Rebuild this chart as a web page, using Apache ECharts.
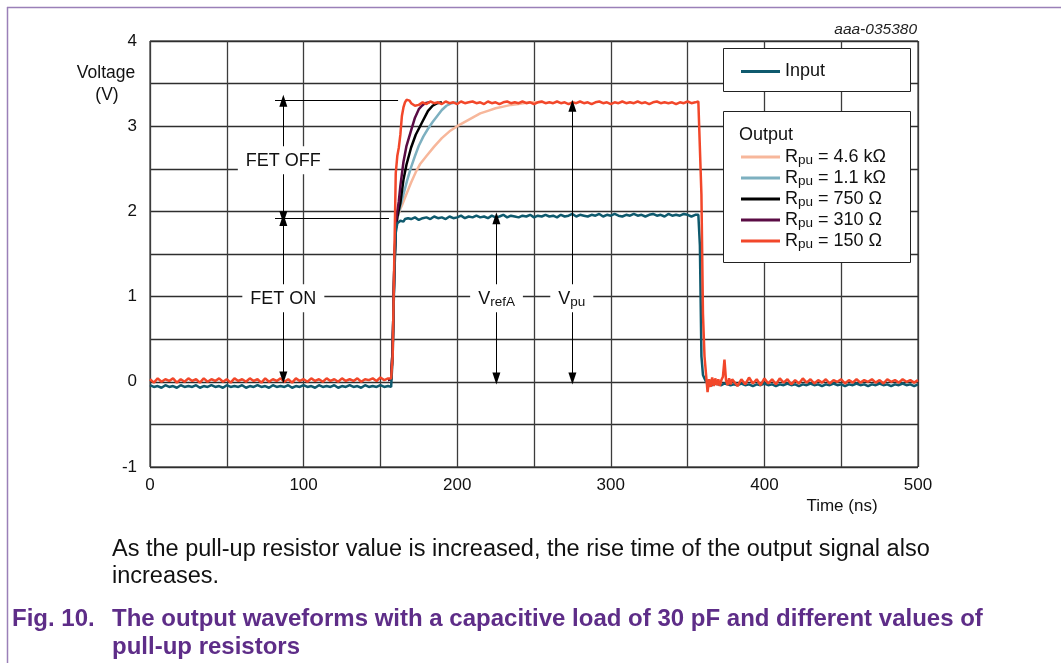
<!DOCTYPE html>
<html><head><meta charset="utf-8">
<script src="https://cdn.jsdelivr.net/npm/echarts@6/dist/echarts.min.js"></script>
<style>html,body{margin:0;padding:0;background:#fff;}#c{width:1061px;height:663px;}</style>
</head><body><div id="c"></div>
<script>
// ---- time base (ns) shared by the Input trace and the 150 ohm output trace
const timeNs = [
0,2.5,5,7.5,10,12.5,15,17.5,20,22.5,
25,27.5,30,32.5,35,37.5,40,42.5,45,47.5,
50,52.5,55,57.5,60,62.5,65,67.5,70,72.5,
75,77.5,80,82.5,85,87.5,90,92.5,95,97.5,
100,102.5,105,107.5,110,112.5,115,117.5,120,122.5,
125,127.5,130,132.5,135,137.5,140,142.5,145,147.5,
150,152.5,155,
156,157,158,159,160,161,162,163,164,165,166,167,168,169,
170,172.5,175,177.5,180,182.5,185,187.5,190,192.5,
195,197.5,200,202.5,205,207.5,210,212.5,215,217.5,
220,222.5,225,227.5,230,232.5,235,237.5,240,242.5,
245,247.5,250,252.5,255,257.5,260,262.5,265,267.5,
270,272.5,275,277.5,280,282.5,285,287.5,290,292.5,
295,297.5,300,302.5,305,307.5,310,312.5,315,317.5,
320,322.5,325,327.5,330,332.5,335,337.5,340,342.5,
345,347.5,350,352.5,355,
356,357,358,359,360,361,362,363,364,365,366,367,368,369,370,371,372,373,374,375,376,377,378,379,
380,382.5,385,387.5,390,392.5,395,397.5,400,402.5,
405,407.5,410,412.5,415,417.5,420,422.5,425,427.5,
430,432.5,435,437.5,440,442.5,445,447.5,450,452.5,
455,457.5,460,462.5,465,467.5,470,472.5,475,477.5,
480,482.5,485,487.5,490,492.5,495,497.5,500
];
const inputV = [
-0.04,-0.06,-0.05,-0.07,-0.04,-0.06,-0.05,-0.07,-0.04,-0.06,
-0.05,-0.06,-0.04,-0.07,-0.05,-0.06,-0.04,-0.06,-0.05,-0.07,
-0.04,-0.06,-0.05,-0.06,-0.04,-0.07,-0.05,-0.06,-0.04,-0.06,
-0.05,-0.07,-0.04,-0.06,-0.05,-0.06,-0.04,-0.07,-0.05,-0.06,
-0.04,-0.06,-0.05,-0.07,-0.04,-0.06,-0.05,-0.06,-0.04,-0.07,
-0.05,-0.06,-0.04,-0.06,-0.05,-0.07,-0.04,-0.06,-0.05,-0.06,
-0.04,-0.06,-0.05,
-0.05,-0.06,0.3,1.2,1.75,1.86,1.88,1.89,1.90,1.88,1.91,1.89,1.92,1.90,
1.91,1.93,1.90,1.92,1.93,1.91,1.94,1.92,1.93,1.91,
1.94,1.92,1.93,1.95,1.92,1.94,1.93,1.95,1.93,1.94,
1.92,1.95,1.93,1.94,1.96,1.93,1.95,1.94,1.93,1.95,
1.94,1.96,1.93,1.95,1.94,1.96,1.94,1.95,1.93,1.96,
1.94,1.95,1.97,1.94,1.96,1.95,1.94,1.96,1.95,1.97,
1.94,1.96,1.95,1.97,1.95,1.94,1.96,1.95,1.97,1.95,
1.96,1.94,1.96,1.97,1.95,1.96,1.94,1.97,1.95,1.96,
1.95,1.97,1.96,1.94,1.96,
1.95,1.96,1.6,0.3,0.08,0.04,0.0,-0.02,-0.03,-0.02,-0.04,-0.03,-0.02,-0.04,-0.03,-0.02,-0.04,-0.03,-0.02,-0.04,-0.03,-0.02,-0.04,-0.03,
-0.03,-0.04,-0.02,-0.04,-0.03,-0.05,-0.03,-0.04,-0.02,-0.04,
-0.03,-0.05,-0.03,-0.04,-0.02,-0.04,-0.03,-0.05,-0.03,-0.04,
-0.02,-0.04,-0.03,-0.05,-0.03,-0.04,-0.02,-0.04,-0.03,-0.05,
-0.03,-0.04,-0.02,-0.04,-0.03,-0.05,-0.03,-0.04,-0.02,-0.04,
-0.03,-0.05,-0.03,-0.04,-0.02,-0.04,-0.03,-0.05,-0.03
];
const out150V = [
0.03,-0.01,0.04,0.00,0.03,0.01,0.04,-0.01,0.03,0.00,
0.04,0.01,0.03,-0.01,0.04,0.00,0.03,0.01,0.04,0.00,
0.03,-0.01,0.04,0.01,0.03,0.00,0.04,0.01,0.03,-0.01,
0.04,0.00,0.03,0.01,0.04,0.00,0.03,-0.01,0.04,0.01,
0.03,0.00,0.04,0.01,0.03,0.00,0.04,0.01,0.03,0.00,
0.04,0.01,0.03,0.01,0.04,0.00,0.03,0.02,0.04,0.01,
0.05,0.02,0.04,
0.03,0.04,0.3,1.4,2.45,2.65,2.75,2.9,3.12,3.22,3.28,3.31,3.31,3.30,
3.27,3.24,3.25,3.28,3.26,3.29,3.27,3.28,3.26,3.29,
3.27,3.28,3.26,3.29,3.27,3.28,3.29,3.27,3.28,3.26,
3.29,3.27,3.28,3.26,3.28,3.29,3.27,3.28,3.27,3.29,
3.27,3.28,3.26,3.28,3.29,3.27,3.28,3.27,3.29,3.27,
3.28,3.26,3.28,3.27,3.29,3.27,3.28,3.26,3.28,3.29,
3.27,3.28,3.26,3.28,3.27,3.29,3.27,3.28,3.27,3.29,
3.27,3.28,3.26,3.28,3.29,3.27,3.28,3.27,3.28,3.26,
3.28,3.27,3.29,3.27,3.28,
3.28,3.29,3.27,2.2,0.8,0.30,0.29,-0.12,0.03,-0.06,0.05,-0.05,0.04,-0.04,0.03,-0.05,0.02,0.06,0.26,0.02,-0.04,0.04,-0.03,0.03,
0.04,-0.05,0.03,-0.03,0.05,-0.02,0.03,-0.04,0.04,-0.02,
0.03,-0.03,0.04,-0.01,0.03,-0.03,0.02,-0.02,0.04,-0.01,
0.03,-0.02,0.02,-0.01,0.03,-0.02,0.02,0.00,0.03,-0.02,
0.02,-0.01,0.03,-0.01,0.02,0.00,0.03,-0.01,0.02,-0.02,
0.03,0.00,0.02,-0.01,0.03,0.00,0.02,-0.01,0.02
];
// ---- slower outputs, rising edge (they sit under the 150 ohm trace elsewhere)
const t4k6 = [155,157,158,159,160,161,162,163,164,166,168,170,173,176,180,185,190,195,200,205,210,215,220,225,230,235,240,247,255];
const v4k6 = [0.02,0.03,0.4,1.3,1.8,1.92,1.98,2.03,2.07,2.16,2.25,2.34,2.46,2.56,2.65,2.76,2.86,2.94,3.00,3.05,3.10,3.15,3.18,3.21,3.23,3.25,3.26,3.28,3.28];
const t1k1 = [155,157,158,159,160,161,162,163,165,167.5,170,172.5,175,178,181,184,187,190,193,196.4,200];
const v1k1 = [0.02,0.03,0.4,1.3,1.8,1.92,1.99,2.06,2.2,2.37,2.52,2.65,2.77,2.88,2.97,3.05,3.12,3.19,3.24,3.27,3.28];
const t750 = [155,157,158,159,160,161,162,163,165,167,170,173,177,181,184,187,190];
const v750 = [0.02,0.03,0.4,1.3,1.8,1.93,2.02,2.1,2.37,2.55,2.75,2.9,3.04,3.18,3.24,3.27,3.28];
const t310 = [155,157,158,159,160,161,162,163,165,167,170,172.5,175,177,179,182];
const v310 = [0.02,0.03,0.4,1.3,1.85,2.0,2.12,2.3,2.58,2.77,2.95,3.1,3.2,3.24,3.27,3.28];

const seriesNames = ['Input','Rpu = 4.6 kΩ','Rpu = 1.1 kΩ','Rpu = 750 Ω','Rpu = 310 Ω','Rpu = 150 Ω'];
const xTickLabels = [0,100,200,300,400,500];
const yTickLabels = [-1,0,1,2,3,4];

// ---- annotation positions in data coordinates (ns, V)
const refLines = [[[81.4,3.31],[161.5,3.31]], [[81.4,1.92],[155.6,1.92]]];
const arrowLines = [[[86.8,1.93],[86.8,3.30]], [[86.8,0.05],[86.8,1.90]], [[225.5,0.04],[225.5,1.92]], [[275,0.04],[275,3.24]]];
const annotLabels = [[86.8,2.60,'FET OFF'],[86.8,0.98,'FET ON'],[225.6,0.98,'V|refA'],[274.6,0.98,'V|pu']];

const FONT = "'Liberation Sans', Arial, Helvetica, sans-serif";
const zip = (t, v) => t.map((x, i) => [x, v[i]]);

const chart = echarts.init(document.getElementById('c'), null, {renderer: 'canvas'});

function traceSeries(name, data, color, z) {
  return {name, type: 'line', data, color, showSymbol: false, symbol: 'none',
    lineStyle: {width: 2.5, color}, z, silent: true, animation: false};
}
const richText = {
  r: {fontSize: 18, color: '#111', fontFamily: FONT, lineHeight: 21},
  s: {fontSize: 13.5, color: '#111', fontFamily: FONT, lineHeight: 8, verticalAlign: 'bottom'}
};
const richZr = {
  r: {fontSize: 18, fill: '#111', fontFamily: FONT, lineHeight: 21},
  s: {fontSize: 13.5, fill: '#111', fontFamily: FONT, lineHeight: 8, verticalAlign: 'bottom'}
};
function legendFmt(name) {
  if (name.indexOf('Rpu') === 0) return '{r|R}{s|pu}{r|' + name.slice(3) + '}';
  return '{r|' + name + '}';
}
function annotFmt(txt) {
  const parts = txt.split('|');
  return parts.length > 1 ? '{r|' + parts[0] + '}{s|' + parts[1] + '}' : '{r|' + parts[0] + '}';
}

const option = {
  animation: false,
  backgroundColor: '#fff',
  grid: {left: 150, top: 41, width: 768, height: 426, show: true, borderColor: '#111', borderWidth: 1, backgroundColor: 'transparent'},
  xAxis: {type: 'value', min: 0, max: 500, interval: 50,
    axisLine: {show: false}, axisTick: {show: false},
    axisLabel: {margin: 10, fontSize: 17, color: '#111', fontFamily: FONT,
      formatter: v => xTickLabels.indexOf(v) >= 0 ? String(v) : ''},
    splitLine: {show: true, lineStyle: {color: '#3c3c3c', width: 1.3}}},
  yAxis: {type: 'value', min: -1, max: 4, interval: 0.5,
    axisLine: {show: false}, axisTick: {show: false},
    axisLabel: {margin: 13, fontSize: 17, color: '#111', fontFamily: FONT,
      formatter: v => yTickLabels.indexOf(v) >= 0 ? String(v) : ''},
    splitLine: {show: true, lineStyle: {color: '#2e2e2e', width: 1.3}}},
  legend: [
    {data: [seriesNames[0]], left: 741, top: 62.5, orient: 'vertical', padding: 0, itemGap: 0,
     icon: 'rect', itemWidth: 39, itemHeight: 3, z: 7, selectedMode: false,
     formatter: legendFmt, textStyle: {rich: richText}},
    {data: seriesNames.slice(1), left: 741, top: 148, orient: 'vertical', padding: 0, itemGap: 1.5,
     icon: 'rect', itemWidth: 39, itemHeight: 3, z: 7, selectedMode: false,
     formatter: legendFmt, textStyle: {rich: richText}}
  ],
  series: [
    traceSeries(seriesNames[1], zip(t4k6, v4k6), '#f7b79b', 2),
    traceSeries(seriesNames[2], zip(t1k1, v1k1), '#7db0c0', 2),
    traceSeries(seriesNames[3], zip(t750, v750), '#000000', 2),
    traceSeries(seriesNames[4], zip(t310, v310), '#5a0c44', 2),
    traceSeries(seriesNames[0], zip(timeNs, inputV), '#0f5a6e', 3),
    traceSeries(seriesNames[5], zip(timeNs, out150V), '#f2472a', 4),
    {name: 'annot', type: 'line', data: [], z: 5, silent: true,
     markLine: {silent: true, animation: false, symbol: ['none','none'], symbolSize: [8, 12],
       lineStyle: {color: '#000', width: 1, type: 'solid'}, label: {show: false},
       emphasis: {disabled: true},
       data: refLines.map(p => [{coord: p[0], symbol: 'none'}, {coord: p[1], symbol: 'none'}])
         .concat(arrowLines.map(p => [{coord: p[0], symbol: 'triangle'}, {coord: p[1], symbol: 'triangle'}]))}},
    {name: 'labels', type: 'custom', z: 20, silent: true,
     data: annotLabels.map(d => [d[0], d[1]]),
     renderItem: (params, api) => {
       const pt = api.coord([api.value(0), api.value(1)]);
       const d = annotLabels[params.dataIndex];
       return {type: 'text', x: pt[0], y: pt[1], z2: 100,
         style: {text: annotFmt(d[2]), rich: richZr, fill: '#111', font: '18px ' + FONT,
           align: 'center', verticalAlign: 'middle', backgroundColor: '#fff', padding: [4, 8, 3, 8]}};
     }}
  ],
  graphic: {elements: [
    {type: 'line', shape: {x1: 7, y1: 7.5, x2: 1061, y2: 7.5}, style: {stroke: '#9a80b8', lineWidth: 1.5}, silent: true},
    {type: 'line', shape: {x1: 7.5, y1: 7, x2: 7.5, y2: 663}, style: {stroke: '#9a80b8', lineWidth: 1.5}, silent: true},
    {type: 'rect', shape: {x: 723.5, y: 48.5, width: 187, height: 43}, style: {fill: '#fff', stroke: '#222', lineWidth: 1}, z: 6, silent: true},
    {type: 'rect', shape: {x: 723.5, y: 111.5, width: 187, height: 151}, style: {fill: '#fff', stroke: '#222', lineWidth: 1}, z: 6, silent: true},
    {type: 'text', x: 739, y: 135, z: 7, style: {text: 'Output', font: '18px ' + FONT, fill: '#111', textVerticalAlign: 'middle'}},
    {type: 'text', x: 917, y: 30, z: 7, style: {text: 'aaa-035380', font: 'italic 15.5px ' + FONT, fill: '#222', textAlign: 'right', textVerticalAlign: 'middle'}},
    {type: 'text', x: 106, y: 73, style: {text: 'Voltage', font: '17.5px ' + FONT, fill: '#111', textAlign: 'center', textVerticalAlign: 'middle'}},
    {type: 'text', x: 107, y: 95, style: {text: '(V)', font: '17.5px ' + FONT, fill: '#111', textAlign: 'center', textVerticalAlign: 'middle'}},
    {type: 'text', x: 842, y: 506, style: {text: 'Time (ns)', font: '17px ' + FONT, fill: '#111', textAlign: 'center', textVerticalAlign: 'middle'}},
    {type: 'text', x: 112, y: 550, style: {text: 'As the pull-up resistor value is increased, the rise time of the output signal also', font: '23.5px ' + FONT, fill: '#111', textVerticalAlign: 'middle'}},
    {type: 'text', x: 112, y: 577, style: {text: 'increases.', font: '23.5px ' + FONT, fill: '#111', textVerticalAlign: 'middle'}},
    {type: 'text', x: 12, y: 619, style: {text: 'Fig. 10.', font: 'bold 24px ' + FONT, fill: '#5e2d88', textVerticalAlign: 'middle'}},
    {type: 'text', x: 112, y: 619, style: {text: 'The output waveforms with a capacitive load of 30 pF and different values of', font: 'bold 24px ' + FONT, fill: '#5e2d88', textVerticalAlign: 'middle'}},
    {type: 'text', x: 112, y: 647, style: {text: 'pull-up resistors', font: 'bold 24px ' + FONT, fill: '#5e2d88', textVerticalAlign: 'middle'}}
  ]}
};
chart.setOption(option);
</script>
</body></html>
